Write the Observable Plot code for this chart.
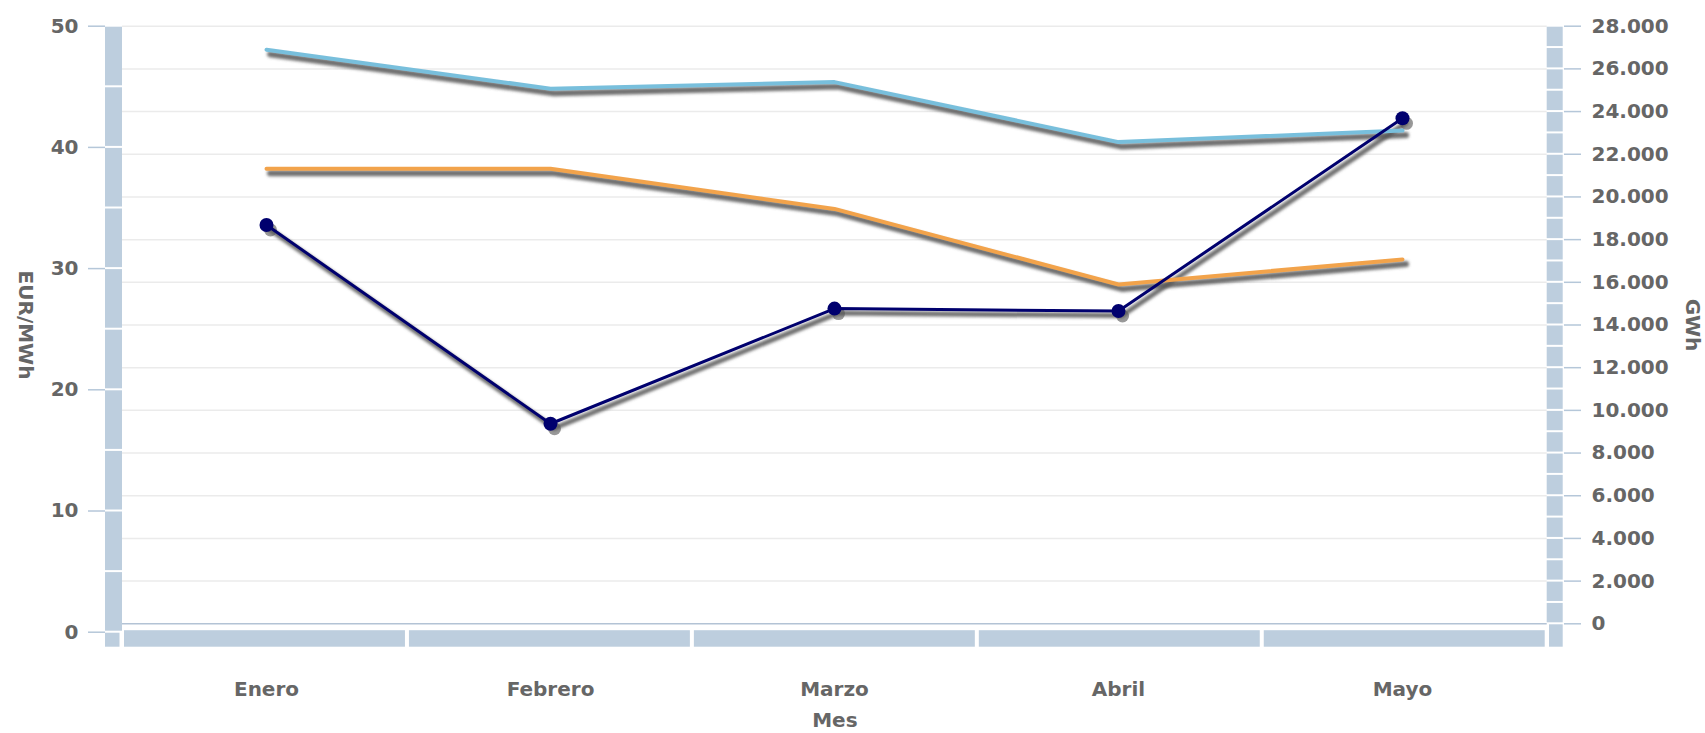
<!DOCTYPE html>
<html>
<head>
<meta charset="utf-8">
<script src="https://cdn.jsdelivr.net/npm/d3@7"></script>
<script src="https://cdn.jsdelivr.net/npm/@observablehq/plot@0.6"></script>
<style>
html, body { margin: 0; padding: 0; background: #fff; }
</style>
</head>
<body>
<div id="chart"></div>
<script>
// ---- data ----
const months = ["Enero", "Febrero", "Marzo", "Abril", "Mayo"];
const precio = [33.6, 17.2, 26.7, 26.5, 42.4];                // EUR/MWh (left axis)
const serieAzul = [26900, 25070, 25380, 22570, 23110];        // GWh (right axis)
const serieNaranja = [21320, 21320, 19440, 15900, 17070];     // GWh (right axis)
const leftTicks = [0, 10, 20, 30, 40, 50];
const rightTicks = [0, 2000, 4000, 6000, 8000, 10000, 12000, 14000, 16000, 18000, 20000, 22000, 24000, 26000, 28000];
const xTitle = "Mes", yLeftTitle = "EUR/MWh", yRightTitle = "GWh";

// ---- mapping of the left axis (EUR/MWh) onto the right scale (GWh) ----
const gMax = 28000, eMax = 50, leftZeroG = -394;
const toG = e => leftZeroG + e * (gMax - leftZeroG) / eMax;
const fromG = g => (g - leftZeroG) * eMax / (gMax - leftZeroG);

const fmtES = d3.formatLocale({decimal: ",", thousands: ".", grouping: [3], currency: ["", "€"]}).format(",d");

const rowsPrecio = months.map((m, i) => ({mes: m, v: toG(precio[i])}));
const rowsAzul = months.map((m, i) => ({mes: m, v: serieAzul[i]}));
const rowsNaranja = months.map((m, i) => ({mes: m, v: serieNaranja[i]}));

const txt = "#666666";
const barC = "#bdcede";
const tickC = "#b5c7d9";

function defs() {
  const d = d3.create("svg:defs");
  d.append("filter").attr("id", "shadowBlur").attr("filterUnits", "userSpaceOnUse")
    .attr("x", 0).attr("y", 0).attr("width", 1705).attr("height", 733)
    .append("feGaussianBlur").attr("stdDeviation", 1.5);
  return d.node();
}

// drop shadow of a series, drawn through the x and y scales
function shadowOf(rows, sw) {
  return (index, scales) => {
    const line = d3.line().x(d => scales.x(d.mes) + 4).y(d => scales.y(d.v) + 5);
    const g = d3.create("svg:g").attr("filter", "url(#shadowBlur)");
    g.append("path").attr("d", line(rows)).attr("fill", "none").attr("stroke", "#555")
      .attr("stroke-opacity", 0.85).attr("stroke-width", sw)
      .attr("stroke-linejoin", "round").attr("stroke-linecap", "round");
    return g.node();
  };
}

// decorative axis bars (segmented, drawn through the y scale)
function axisBars(index, scales, values, dims) {
  const y = scales.y;
  const g = d3.create("svg:g").attr("fill", barC);
  const x0 = dims.marginLeft, x1 = dims.width - dims.marginRight;
  const y0 = y(toG(0));
  const barBottom = y0 + 15;
  for (let e = 0; e < eMax; e += 5) {
    const top = y(toG(e + 5)) + 1, bot = y(toG(e)) - 1;
    g.append("rect").attr("x", x0 - 17).attr("y", top).attr("width", 17).attr("height", bot - top);
  }
  g.append("rect").attr("x", x0 - 17).attr("y", y0 + 1).attr("width", 14.5).attr("height", barBottom - y0 - 1);
  for (let v = 0; v < gMax; v += 1000) {
    const top = y(v + 1000) + 1, bot = y(v) - 1;
    g.append("rect").attr("x", x1).attr("y", top).attr("width", 16).attr("height", bot - top);
  }
  g.append("rect").attr("x", x1 + 2.3).attr("y", y(0) + 1).attr("width", 13.7).attr("height", barBottom - y(0) - 1);
  const step = (x1 - x0) / months.length;
  months.forEach((m, i) => {
    g.append("rect").attr("x", x0 + i * step + 2).attr("y", y0 - 1.5)
      .attr("width", step - 4).attr("height", barBottom - (y0 - 1.5));
  });
  return g.node();
}

const chart = Plot.plot({
  width: 1705,
  height: 733,
  marginLeft: 122,
  marginRight: 158.3,
  marginTop: 25.7,
  marginBottom: 109.7,
  style: {fontFamily: "'DejaVu Sans', Verdana, sans-serif", fontSize: "20px", fontWeight: "bold", color: txt, background: "#fff"},
  x: {type: "point", domain: months, padding: 0.5, axis: null},
  y: {domain: [0, gMax], axis: null},
  marks: [
    defs,
    Plot.ruleY(rightTicks.filter(d => d > 0), {stroke: "#ebebeb", strokeWidth: 1.5}),
    axisBars,
    Plot.ruleY([0], {stroke: "#b3c3d5", strokeWidth: 1.5}),
    Plot.axisY(leftTicks.map(toG), {anchor: "left", dx: -17, tickSize: 17, tickPadding: 10, label: null,
      stroke: tickC, fill: txt, strokeWidth: 1.5, tickFormat: d => String(Math.round(fromG(d)))}),
    Plot.axisY(rightTicks, {anchor: "right", dx: 16.3, tickSize: 17, tickPadding: 11, label: null,
      stroke: tickC, fill: txt, strokeWidth: 1.5, tickFormat: d => fmtES(d)}),
    Plot.axisX(months, {anchor: "bottom", tickSize: 0, tickPadding: 58, fill: txt, label: null}),
    Plot.text([xTitle], {frameAnchor: "bottom", dy: 97, lineAnchor: "middle", textAnchor: "middle", fill: txt}),
    Plot.text([yLeftTitle], {frameAnchor: "left", dx: -97, rotate: 90, textAnchor: "middle", lineAnchor: "middle", fill: txt}),
    Plot.text([yRightTitle], {frameAnchor: "right", dx: 145, rotate: 90, textAnchor: "middle", lineAnchor: "middle", fill: txt}),
    shadowOf(rowsAzul, 6),
    shadowOf(rowsNaranja, 6),
    shadowOf(rowsPrecio, 5),
    Plot.dot(rowsPrecio, {x: "mes", y: "v", r: 6.5, fill: "#555", fillOpacity: 0.6, dx: 4, dy: 5, ariaLabel: "dotshadow"}),
    Plot.line(rowsAzul, {x: "mes", y: "v", stroke: "#78bfdc", strokeWidth: 4}),
    Plot.line(rowsNaranja, {x: "mes", y: "v", stroke: "#f2a34b", strokeWidth: 4}),
    Plot.line(rowsPrecio, {x: "mes", y: "v", stroke: "#00006e", strokeWidth: 3}),
    Plot.dot(rowsPrecio, {x: "mes", y: "v", r: 7, fill: "#00006e"})
  ]
});
chart.querySelectorAll('g[aria-label="dotshadow"]').forEach(g => g.setAttribute("filter", "url(#shadowBlur)"));
document.getElementById("chart").appendChild(chart);
</script>
</body>
</html>
